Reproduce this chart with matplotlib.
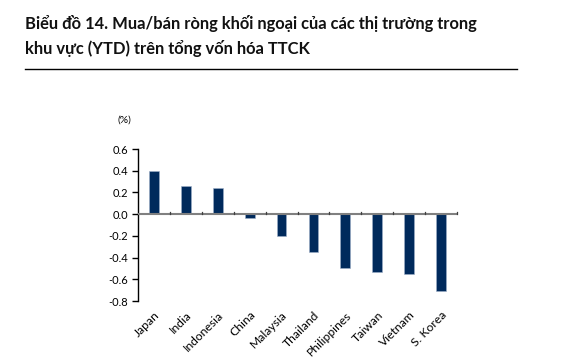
import matplotlib
matplotlib.use("Agg")
import matplotlib.pyplot as plt
import numpy as np

categories = ["Japan", "India", "Indonesia", "China", "Malaysia", "Thailand",
              "Philippines", "Taiwan", "Vietnam", "S. Korea"]
values = [0.40, 0.26, 0.24, -0.04, -0.20, -0.345, -0.50, -0.53, -0.55, -0.71]
yticks = [0.6, 0.4, 0.2, 0.0, -0.2, -0.4, -0.6, -0.8]
title = "Biểu đồ 14. Mua/bán ròng khối ngoại của các thị trường trong\nkhu vực (YTD) trên tổng vốn hóa TTCK"

plt.rcParams['font.family'] = ['Lato', 'DejaVu Sans']

W, H = 574, 364
fig = plt.figure(figsize=(W/100, H/100), dpi=100)

fig.text(25/W, 1 - 15/H, title, ha='left', va='top', fontsize=11.9,
         fontweight='bold', linespacing=1.55, color='#111111')
fig.add_artist(plt.Line2D([25/W, 517/W], [1 - 68.5/H, 1 - 68.5/H],
                          color='black', lw=1.0))

left, right = 138/W, 457/W
top, bottom = 1 - 149/H, 1 - 301/H
ax = fig.add_axes([left, bottom, right - left, top - bottom])

x = np.arange(len(categories))
ax.bar(x, values, width=0.31, color='#002a5c', edgecolor='#9fb0c8', linewidth=0.4, zorder=2)

ax.set_xlim(-0.5, len(categories) - 0.5)
ax.set_ylim(-0.8, 0.6)
ax.set_yticks(yticks)
ax.set_yticklabels([f"{v:.1f}" for v in yticks], fontsize=8)
ax.tick_params(axis='y', direction='out', length=4, width=1, pad=3)

for s in ['top', 'right', 'bottom']:
    ax.spines[s].set_visible(False)
ax.spines['left'].set_linewidth(1.0)

# zero line with upward boundary ticks
ax.axhline(0, color='#808080', lw=1.5, zorder=3)
for b in np.arange(0.5, len(categories) - 0.4, 1.0):
    ax.plot([b, b], [0, 0.018], color='#404040', lw=0.9, zorder=3, clip_on=False)

ax.set_xticks(x)
ax.set_xticklabels(categories, rotation=45, ha='right', rotation_mode='anchor', fontsize=8.7)
ax.tick_params(axis='x', length=0, pad=6)

fig.text(117/W, 1 - 120/H, "(%)", fontsize=7.5, ha='left', va='center')

fig.savefig("out.png", dpi=100)
